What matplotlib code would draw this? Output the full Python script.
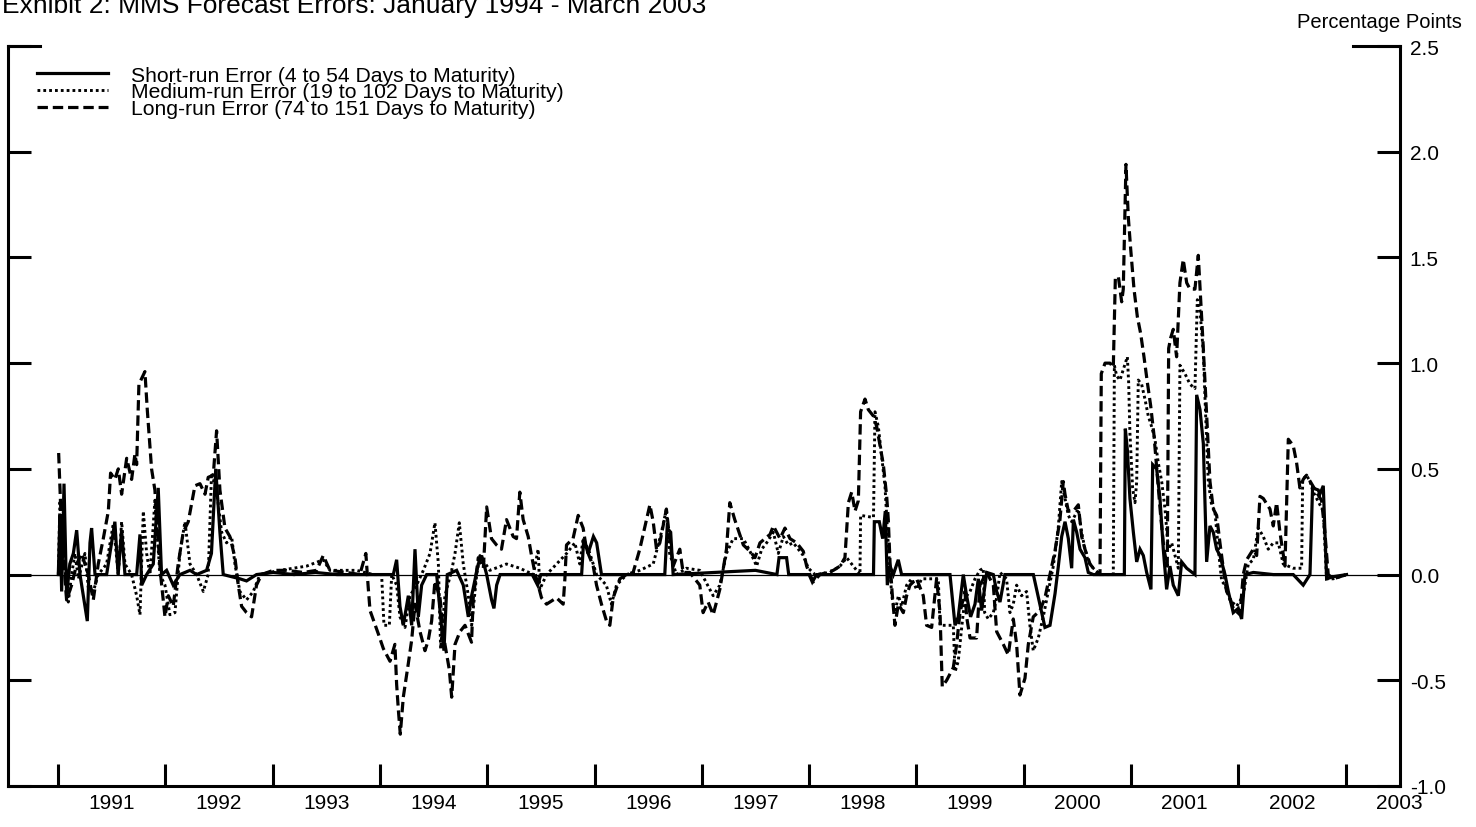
import matplotlib
matplotlib.use("Agg")
import matplotlib.pyplot as plt
from matplotlib.lines import Line2D
import numpy as np

plt.rcParams['font.family'] = ['Liberation Sans', 'DejaVu Sans']
plt.rcParams['lines.scale_dashes'] = False

# ---------------- data (decimal year, percentage points) ----------------
short_t = [
    1991.003, 1991.018, 1991.034, 1991.056, 1991.080, 1991.110, 1991.143, 1991.174, 1991.205, 1991.236,
    1991.273, 1991.298, 1991.313, 1991.345, 1991.453, 1991.530, 1991.560, 1991.593, 1991.624, 1991.733,
    1991.764, 1991.780, 1991.826, 1991.888, 1991.934, 1991.965, 1992.012, 1992.074, 1992.136, 1992.230,
    1992.292, 1992.385, 1992.430, 1992.470, 1992.509, 1992.540, 1992.695, 1992.757, 1992.850, 1993.006,
    1993.200, 1993.400, 1993.600, 1993.800, 1993.938, 1994.125, 1994.156, 1994.187, 1994.218, 1994.265,
    1994.296, 1994.327, 1994.358, 1994.389, 1994.436, 1994.529, 1994.575, 1994.597, 1994.628, 1994.715,
    1994.777, 1994.824, 1994.855, 1994.917, 1994.948, 1994.995, 1995.041, 1995.063, 1995.088, 1995.120,
    1995.420, 1995.470, 1995.500, 1995.880, 1995.900, 1995.940, 1995.990, 1996.020, 1996.065, 1996.655,
    1996.677, 1996.710, 1996.733, 1997.500, 1997.700, 1997.720, 1997.790, 1997.810, 1998.000, 1998.030,
    1998.070, 1998.600, 1998.608, 1998.654, 1998.686, 1998.710, 1998.729, 1998.754, 1998.785, 1998.831,
    1998.862, 1999.313, 1999.360, 1999.390, 1999.437, 1999.468, 1999.505, 1999.546, 1999.577, 1999.608,
    1999.655, 1999.717, 1999.748, 1999.779, 1999.825, 2000.090, 2000.151, 2000.198, 2000.245, 2000.292,
    2000.323, 2000.354, 2000.385, 2000.416, 2000.447, 2000.463, 2000.494, 2000.525, 2000.571, 2000.602,
    2000.649, 2000.938, 2000.947, 2000.966, 2000.990, 2001.022, 2001.053, 2001.084, 2001.115, 2001.146,
    2001.186, 2001.202, 2001.239, 2001.270, 2001.301, 2001.332, 2001.363, 2001.394, 2001.441, 2001.472,
    2001.519, 2001.596, 2001.612, 2001.643, 2001.674, 2001.705, 2001.736, 2001.767, 2001.798, 2001.829,
    2001.876, 2001.907, 2001.953, 2002.000, 2002.031, 2002.062, 2002.140, 2002.326, 2002.512, 2002.605,
    2002.668, 2002.692, 2002.745, 2002.760, 2002.792, 2002.823, 2002.885, 2003.009]
short_v = [
    0.00, 0.28, -0.08, 0.43, -0.10, 0.05, 0.10, 0.21, 0.00, -0.10,
    -0.22, 0.15, 0.22, 0.00, 0.00, 0.25, 0.00, 0.21, 0.00, 0.00,
    0.19, -0.05, 0.00, 0.05, 0.41, 0.00, 0.02, -0.05, 0.00, 0.02,
    0.00, 0.02, 0.10, 0.50, 0.20, 0.00, -0.02, -0.03, 0.00, 0.01,
    0.00, 0.01, 0.00, 0.00, 0.00, 0.00, 0.07, -0.15, -0.24, -0.10,
    -0.24, 0.12, -0.20, -0.05, 0.00, 0.00, -0.25, -0.36, 0.00, 0.02,
    -0.05, -0.20, -0.10, 0.05, 0.09, 0.00, -0.12, -0.16, -0.05, 0.00,
    0.00, -0.05, 0.00, 0.00, 0.17, 0.10, 0.18, 0.15, 0.00, 0.00,
    0.22, 0.20, 0.00, 0.02, 0.00, 0.08, 0.08, 0.00, 0.00, -0.035,
    0.00, 0.00, 0.25, 0.25, 0.17, 0.30, -0.05, 0.04, 0.00, 0.07,
    0.00, 0.00, -0.24, -0.20, 0.00, -0.10, -0.20, -0.14, -0.02, -0.17,
    0.01, 0.00, -0.08, -0.13, 0.00, 0.00, -0.14, -0.25, -0.24, -0.09,
    0.04, 0.18, 0.25, 0.17, 0.03, 0.26, 0.20, 0.12, 0.08, 0.01,
    0.00, 0.00, 0.69, 0.59, 0.36, 0.20, 0.06, 0.12, 0.09, 0.01,
    -0.07, 0.52, 0.50, 0.36, 0.12, -0.07, 0.04, -0.05, -0.10, 0.06,
    0.03, 0.00, 0.85, 0.78, 0.62, 0.06, 0.23, 0.20, 0.12, 0.09,
    0.00, -0.08, -0.18, -0.16, -0.21, 0.00, 0.01, 0.00, 0.00, -0.05,
    0.00, 0.41, 0.40, 0.38, 0.42, -0.02, -0.01, 0.00]

medium_t = [
    1991.003, 1991.018, 1991.050, 1991.096, 1991.127, 1991.158, 1991.190, 1991.251, 1991.282, 1991.329,
    1991.375, 1991.453, 1991.515, 1991.562, 1991.593, 1991.624, 1991.686, 1991.733, 1991.764, 1991.795,
    1991.826, 1991.857, 1991.903, 1991.950, 1991.997, 1992.043, 1992.090, 1992.136, 1992.183, 1992.230,
    1992.292, 1992.354, 1992.400, 1992.431, 1992.478, 1992.525, 1992.571, 1992.618, 1992.649, 1992.695,
    1992.757, 1992.820, 1992.882, 1993.068, 1993.317, 1993.472, 1993.534, 1993.782, 1993.938, 1994.016,
    1994.038, 1994.088, 1994.110, 1994.156, 1994.187, 1994.234, 1994.280, 1994.342, 1994.405, 1994.467,
    1994.513, 1994.545, 1994.566, 1994.606, 1994.669, 1994.700, 1994.740, 1994.777, 1994.824, 1994.855,
    1994.902, 1994.932, 1995.025, 1995.180, 1995.304, 1995.430, 1995.475, 1995.490, 1995.553, 1995.740,
    1995.817, 1995.863, 1995.894, 1995.957, 1996.019, 1996.110, 1996.158, 1996.205, 1996.300, 1996.422,
    1996.547, 1996.624, 1996.670, 1996.700, 1996.764, 1996.857, 1996.981, 1997.106, 1997.168, 1997.230,
    1997.292, 1997.387, 1997.449, 1997.511, 1997.558, 1997.604, 1997.667, 1997.713, 1997.760, 1997.806,
    1997.853, 1997.900, 1997.946, 1997.993, 1998.055, 1998.195, 1998.288, 1998.350, 1998.412, 1998.474,
    1998.480, 1998.600, 1998.614, 1998.645, 1998.676, 1998.707, 1998.738, 1998.770, 1998.800, 1998.832,
    1998.863, 1998.909, 1998.956, 1999.002, 1999.049, 1999.204, 1999.220, 1999.344, 1999.360, 1999.390,
    1999.422, 1999.453, 1999.500, 1999.546, 1999.592, 1999.623, 1999.636, 1999.670, 1999.717, 1999.748,
    1999.779, 1999.840, 1999.872, 1999.903, 1999.934, 1999.980, 2000.027, 2000.058, 2000.089, 2000.136,
    2000.182, 2000.229, 2000.276, 2000.322, 2000.354, 2000.385, 2000.416, 2000.447, 2000.478, 2000.509,
    2000.540, 2000.571, 2000.602, 2000.649, 2000.711, 2000.835, 2000.845, 2000.866, 2000.897, 2000.928,
    2000.966, 2000.978, 2000.990, 2001.015, 2001.037, 2001.053, 2001.068, 2001.099, 2001.130, 2001.161,
    2001.192, 2001.223, 2001.254, 2001.286, 2001.317, 2001.348, 2001.379, 2001.410, 2001.441, 2001.456,
    2001.503, 2001.550, 2001.596, 2001.618, 2001.643, 2001.674, 2001.696, 2001.720, 2001.751, 2001.782,
    2001.814, 2001.845, 2001.876, 2001.922, 2001.984, 2002.046, 2002.093, 2002.140, 2002.186, 2002.233,
    2002.279, 2002.326, 2002.373, 2002.419, 2002.512, 2002.590, 2002.600, 2002.636, 2002.668, 2002.699,
    2002.792, 2002.823, 2002.885, 2003.009]
medium_v = [
    0.00, 0.35, 0.10, -0.13, 0.00, 0.10, -0.02, 0.10, -0.06, -0.08,
    0.00, 0.05, 0.24, 0.00, 0.25, 0.05, 0.00, -0.10, -0.19, 0.30,
    0.10, 0.00, 0.35, 0.00, -0.05, -0.19, -0.18, 0.10, 0.25, 0.05,
    0.00, -0.08, 0.00, 0.48, 0.40, 0.20, 0.15, 0.18, 0.05, -0.08,
    -0.12, -0.08, 0.00, 0.02, 0.04, 0.07, 0.02, 0.02, 0.00, 0.00,
    -0.24, -0.24, 0.00, -0.05, -0.20, -0.25, -0.10, -0.05, 0.02, 0.10,
    0.245, 0.05, -0.35, -0.10, 0.02, 0.10, 0.245, 0.05, -0.10, -0.24,
    0.00, 0.09, 0.02, 0.05, 0.03, 0.00, 0.12, -0.07, 0.00, 0.10,
    0.15, 0.05, 0.17, 0.10, 0.00, -0.05, -0.14, -0.05, 0.00, 0.02,
    0.05, 0.20, 0.31, 0.10, 0.00, 0.03, 0.02, -0.10, -0.05, 0.10,
    0.17, 0.17, 0.11, 0.04, 0.12, 0.15, 0.20, 0.10, 0.18, 0.14,
    0.15, 0.12, 0.09, 0.03, 0.00, 0.01, 0.04, 0.08, 0.04, 0.00,
    0.28, 0.27, 0.77, 0.70, 0.56, 0.42, 0.14, -0.10, -0.18, -0.10,
    -0.15, -0.05, -0.02, -0.07, -0.02, -0.02, -0.24, -0.24, -0.46, -0.41,
    -0.25, -0.11, -0.08, -0.02, 0.02, 0.03, -0.18, -0.21, -0.18, -0.11,
    0.01, -0.02, -0.18, -0.14, -0.05, -0.10, -0.08, -0.24, -0.36, -0.30,
    -0.20, -0.08, 0.04, 0.22, 0.44, 0.36, 0.28, 0.25, 0.28, 0.31,
    0.20, 0.12, 0.06, 0.03, 0.00, 0.00, 0.99, 0.94, 0.92, 0.97,
    1.03, 0.91, 0.67, 0.41, 0.34, 0.44, 0.92, 0.90, 0.83, 0.75,
    0.70, 0.64, 0.53, 0.44, 0.31, 0.12, 0.15, 0.09, 0.03, 0.99,
    0.95, 0.90, 0.88, 1.30, 1.25, 1.05, 0.75, 0.44, 0.33, 0.30,
    0.12, -0.03, -0.05, -0.12, -0.15, -0.10, 0.05, 0.07, 0.22, 0.18,
    0.12, 0.15, 0.15, 0.05, 0.03, 0.03, 0.45, 0.47, 0.44, 0.39,
    0.30, -0.02, -0.02, 0.00]

long_t = [
    1991.006, 1991.034, 1991.080, 1991.127, 1991.174, 1991.220, 1991.282, 1991.329, 1991.375, 1991.422,
    1991.469, 1991.490, 1991.530, 1991.562, 1991.593, 1991.640, 1991.686, 1991.717, 1991.733, 1991.754,
    1991.810, 1991.832, 1991.872, 1991.903, 1991.925, 1991.956, 1991.997, 1992.028, 1992.074, 1992.120,
    1992.167, 1992.214, 1992.276, 1992.323, 1992.370, 1992.400, 1992.447, 1992.478, 1992.509, 1992.556,
    1992.602, 1992.649, 1992.680, 1992.711, 1992.757, 1992.804, 1992.850, 1992.897, 1993.006, 1993.130,
    1993.286, 1993.410, 1993.472, 1993.534, 1993.690, 1993.813, 1993.869, 1993.891, 1993.908, 1993.985,
    1994.032, 1994.094, 1994.140, 1994.156, 1994.172, 1994.190, 1994.218, 1994.265, 1994.296, 1994.327,
    1994.374, 1994.420, 1994.451, 1994.482, 1994.513, 1994.560, 1994.606, 1994.647, 1994.669, 1994.700,
    1994.746, 1994.793, 1994.854, 1994.870, 1994.917, 1994.964, 1994.995, 1995.040, 1995.087, 1995.133,
    1995.180, 1995.242, 1995.273, 1995.304, 1995.335, 1995.382, 1995.413, 1995.444, 1995.475, 1995.506,
    1995.553, 1995.584, 1995.646, 1995.708, 1995.724, 1995.739, 1995.800, 1995.848, 1995.894, 1995.925,
    1995.988, 1996.019, 1996.065, 1996.112, 1996.143, 1996.174, 1996.236, 1996.298, 1996.360, 1996.422,
    1996.484, 1996.516, 1996.547, 1996.578, 1996.609, 1996.670, 1996.700, 1996.733, 1996.795, 1996.826,
    1996.888, 1996.981, 1997.012, 1997.059, 1997.106, 1997.168, 1997.230, 1997.261, 1997.307, 1997.354,
    1997.387, 1997.449, 1997.496, 1997.542, 1997.589, 1997.636, 1997.667, 1997.729, 1997.775, 1997.822,
    1997.884, 1997.946, 1997.977, 1998.008, 1998.039, 1998.101, 1998.163, 1998.226, 1998.288, 1998.334,
    1998.366, 1998.397, 1998.428, 1998.459, 1998.480, 1998.521, 1998.552, 1998.599, 1998.630, 1998.661,
    1998.692, 1998.723, 1998.738, 1998.754, 1998.776, 1998.800, 1998.832, 1998.878, 1998.909, 1998.940,
    1999.002, 1999.064, 1999.095, 1999.142, 1999.188, 1999.220, 1999.241, 1999.282, 1999.344, 1999.375,
    1999.406, 1999.453, 1999.468, 1999.500, 1999.561, 1999.592, 1999.655, 1999.717, 1999.748, 1999.810,
    1999.856, 1999.903, 1999.934, 1999.965, 2000.012, 2000.043, 2000.089, 2000.152, 2000.198, 2000.245,
    2000.291, 2000.338, 2000.369, 2000.385, 2000.416, 2000.463, 2000.509, 2000.540, 2000.571, 2000.618,
    2000.664, 2000.711, 2000.723, 2000.758, 2000.804, 2000.835, 2000.854, 2000.882, 2000.913, 2000.928,
    2000.953, 2000.975, 2000.997, 2001.028, 2001.059, 2001.090, 2001.121, 2001.152, 2001.183, 2001.214,
    2001.245, 2001.276, 2001.307, 2001.338, 2001.351, 2001.370, 2001.394, 2001.425, 2001.456, 2001.487,
    2001.519, 2001.550, 2001.596, 2001.627, 2001.649, 2001.674, 2001.705, 2001.736, 2001.767, 2001.798,
    2001.829, 2001.860, 2001.891, 2001.922, 2001.953, 2002.016, 2002.046, 2002.078, 2002.140, 2002.171,
    2002.202, 2002.233, 2002.295, 2002.326, 2002.357, 2002.388, 2002.435, 2002.466, 2002.512, 2002.543,
    2002.574, 2002.605, 2002.636, 2002.683, 2002.730, 2002.776, 2002.807, 2002.838, 2002.885, 2003.009]
long_v = [
    0.575, 0.20, -0.12, -0.05, 0.05, 0.10, 0.00, -0.12, 0.05, 0.17,
    0.30, 0.48, 0.45, 0.50, 0.38, 0.55, 0.45, 0.57, 0.52, 0.90,
    0.96, 0.78, 0.50, 0.40, 0.22, 0.00, -0.20, -0.10, -0.15, 0.05,
    0.20, 0.25, 0.42, 0.43, 0.38, 0.46, 0.47, 0.68, 0.40, 0.22,
    0.18, 0.08, -0.05, -0.15, -0.18, -0.20, -0.05, 0.00, 0.02, 0.02,
    0.01, 0.02, 0.09, 0.02, 0.01, 0.00, 0.10, -0.06, -0.17, -0.28,
    -0.35, -0.41, -0.33, -0.52, -0.64, -0.755, -0.58, -0.42, -0.31, -0.14,
    -0.27, -0.36, -0.31, -0.22, -0.03, -0.11, -0.33, -0.45, -0.58, -0.33,
    -0.27, -0.24, -0.32, -0.11, 0.08, 0.03, 0.32, 0.17, 0.14, 0.12,
    0.26, 0.18, 0.17, 0.39, 0.26, 0.18, 0.09, 0.01, -0.05, -0.11,
    -0.14, -0.13, -0.11, -0.14, -0.02, 0.14, 0.17, 0.28, 0.22, 0.12,
    0.04, -0.05, -0.14, -0.22, -0.24, -0.11, -0.02, 0.00, 0.01, 0.12,
    0.26, 0.33, 0.25, 0.12, 0.15, 0.31, 0.17, 0.04, 0.12, 0.01,
    0.01, -0.05, -0.18, -0.13, -0.19, -0.07, 0.12, 0.34, 0.26, 0.19,
    0.14, 0.11, 0.08, 0.15, 0.17, 0.19, 0.23, 0.17, 0.22, 0.17,
    0.15, 0.11, 0.04, 0.00, -0.035, 0.00, 0.01, 0.02, 0.04, 0.08,
    0.34, 0.39, 0.30, 0.35, 0.77, 0.83, 0.78, 0.75, 0.70, 0.61,
    0.52, 0.37, 0.26, 0.06, -0.10, -0.24, -0.14, -0.18, -0.10, -0.05,
    -0.02, -0.10, -0.24, -0.25, -0.02, -0.18, -0.53, -0.50, -0.44, -0.33,
    -0.18, -0.08, -0.20, -0.30, -0.30, -0.05, 0.01, -0.05, -0.27, -0.33,
    -0.38, -0.21, -0.33, -0.57, -0.49, -0.33, -0.20, -0.17, -0.11, 0.00,
    0.11, 0.26, 0.44, 0.38, 0.30, 0.30, 0.33, 0.18, 0.12, 0.05,
    0.02, 0.00, 0.95, 1.00, 1.00, 0.98, 1.40, 1.41, 1.29, 1.35,
    1.94, 1.69, 1.54, 1.35, 1.22, 1.14, 1.03, 0.91, 0.80, 0.66,
    0.47, 0.28, 0.12, 0.04, 1.07, 1.12, 1.16, 1.03, 1.38, 1.49,
    1.38, 1.35, 1.35, 1.51, 1.30, 1.07, 0.75, 0.44, 0.31, 0.28,
    0.15, 0.03, -0.08, -0.11, -0.16, -0.19, 0.00, 0.07, 0.12, 0.09,
    0.37, 0.36, 0.31, 0.23, 0.34, 0.20, 0.04, 0.64, 0.61, 0.53,
    0.41, 0.45, 0.47, 0.43, 0.39, 0.35, 0.20, 0.00, -0.02, 0.00]

series_labels = ["Short-run Error (4 to 54 Days to Maturity)",
                 "Medium-run Error (19 to 102 Days to Maturity)",
                 "Long-run Error (74 to 151 Days to Maturity)"]
year_labels = [str(y) for y in range(1991, 2004)]
y_ticks = [-1.0, -0.5, 0.0, 0.5, 1.0, 1.5, 2.0, 2.5]
title_text = "Exhibit 2: MMS Forecast Errors: January 1994 - March 2003"
unit_text = "Percentage Points"

# ---------------- figure ----------------
W, H = 1476, 828
fig = plt.figure(figsize=(W / 100, H / 100), dpi=100)
ax = fig.add_axes([8 / W, 41 / H, 1392 / W, 740 / H])
ax.set_xlim(1990.534, 2003.507)
ax.set_ylim(-1.0, 2.5)

styles = [
    dict(linestyle='-', lw=2.3),
    dict(linestyle=(0, (2.0, 2.2)), lw=2.1),
    dict(linestyle=(0, (7.5, 3.5)), lw=2.3),
]

ax.axhline(0.0, color='black', lw=0.9, zorder=1)
ax.plot(long_t, long_v, color='black', zorder=2, **styles[2])
ax.plot(medium_t, medium_v, color='black', zorder=3, **styles[1])
ax.plot(short_t, short_v, color='black', zorder=4, solid_joinstyle='miter', **styles[0])

# spines
for s in ['left', 'right', 'bottom']:
    ax.spines[s].set_linewidth(2.2)
ax.spines['top'].set_visible(False)

# x ticks: marks at year boundaries, labels in middle of year
ax.set_xticks(list(range(1991, 2004)))
ax.set_xticklabels([])
ax.set_xticks([int(y) + 0.5 for y in year_labels], minor=True)
ax.set_xticklabels(year_labels, minor=True)
ax.tick_params(axis='x', which='major', direction='in', length=16, width=2.2, top=False)
ax.tick_params(axis='x', which='minor', length=0, pad=5, labelsize=15)

# y ticks
ax.set_yticks(y_ticks)
ax.set_yticklabels([f"{v:.1f}" for v in y_ticks])
ax.tick_params(axis='y', which='major', direction='in', length=16.5, width=2.2,
               left=True, right=True, labelleft=False, labelright=True, pad=7, labelsize=15)

# partial top frame pieces
ax.add_line(Line2D([0, 32 / 1392], [1, 1], transform=ax.transAxes, color='black', lw=2.2, clip_on=False))
ax.add_line(Line2D([1 - 47 / 1392, 1], [1, 1], transform=ax.transAxes, color='black', lw=2.2, clip_on=False))

# legend (manual, compact: three sample lines + one three-line text block)
row_px = [74, 91, 108]
for i in range(3):
    yy = (787 - row_px[i]) / 740
    ax.add_line(Line2D([29 / 1392, 100 / 1392], [yy, yy], transform=ax.transAxes,
                       color='black', **styles[i]))
ax.text(123 / 1392, (787 - 93) / 740, "\n".join(series_labels), transform=ax.transAxes,
        ha='left', va='center', fontsize=15.2, linespacing=0.86)

fig.text(2 / W, 1 - 13 / H, title_text, ha='left', va='baseline', fontsize=19)
fig.text(1462 / W, 1 - 28 / H, unit_text, ha='right', va='baseline', fontsize=14.5)

fig.savefig("out.png", dpi=100)
